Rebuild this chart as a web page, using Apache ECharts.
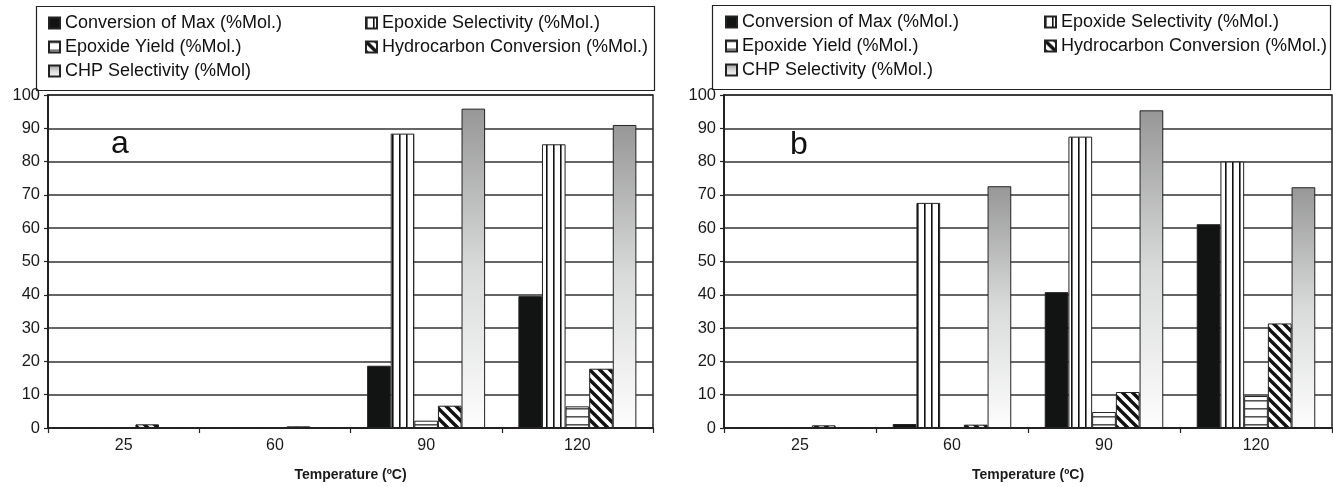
<!DOCTYPE html>
<html>
<head>
<meta charset="utf-8">
<script src="https://cdn.jsdelivr.net/npm/echarts@6/dist/echarts.min.js"></script>
<style>
html,body{margin:0;padding:0;background:#fff;}
#c{width:1333px;height:487px;}
</style>
</head>
<body>
<div id="c"></div>
<script>
// ---- data ----
var categories = ['25', '60', '90', '120'];
var yTicks = [0, 10, 20, 30, 40, 50, 60, 70, 80, 90, 100];

var namesA = ['Conversion of Max (%Mol.)', 'Epoxide Selectivity (%Mol.)', 'Epoxide Yield (%Mol.)', 'Hydrocarbon Conversion (%Mol.)', 'CHP Selectivity (%Mol)'];
var namesB = ['Conversion of Max (%Mol.)', 'Epoxide Selectivity (%Mol.)', 'Epoxide Yield (%Mol.)', 'Hydrocarbon Conversion (%Mol.)', 'CHP Selectivity (%Mol.)'];

var a_conv   = [0, 0, 18.7, 39.6];
var a_epoSel = [0, 0, 88.4, 85.2];
var a_yield  = [0, 0, 2.2, 6.5];
var a_hydro  = [1.1, 0.5, 6.7, 17.8];
var a_chp    = [0, 0, 95.9, 91.0];

var b_conv   = [0, 1.2, 40.8, 61.2];
var b_epoSel = [0, 67.6, 87.5, 80.0];
var b_yield  = [0, 0, 4.8, 9.6];
var b_hydro  = [0.8, 1.0, 10.8, 31.4];
var b_chp    = [0, 72.6, 95.4, 72.3];

// ---- patterns ----
function mk(w, h, draw) {
  var c = document.createElement('canvas'); c.width = w; c.height = h;
  var g = c.getContext('2d'); g.fillStyle = '#fff'; g.fillRect(0, 0, w, h); draw(g, w, h);
  return { image: c, repeat: 'repeat' };
}
var patVert = mk(7, 7, function (g) { g.fillStyle = '#111'; g.fillRect(0, 0, 1.6, 7); });
var patHorz = mk(8, 8, function (g) { g.fillStyle = '#555'; g.fillRect(0, 0, 8, 1.6); });
var patDiag = mk(10, 10, function (g) {
  g.strokeStyle = '#111'; g.lineWidth = 3.4; g.beginPath();
  g.moveTo(-5, -5); g.lineTo(15, 15);
  g.moveTo(-5, 5); g.lineTo(5, 15);
  g.moveTo(5, -5); g.lineTo(15, 5);
  g.stroke();
});
var gradChp = new echarts.graphic.LinearGradient(0, 0, 0, 1, [
  { offset: 0, color: '#979797' }, { offset: 0.5, color: '#d9dada' }, { offset: 1, color: '#fdfdfd' }
]);
var fills = ['#121413', patVert, patHorz, patDiag, gradChp];

var font = '"Liberation Sans", Arial, sans-serif';

function grid(left, right, bottom) {
  return { left: left, right: right, top: 95, bottom: bottom, show: true, borderColor: '#222', borderWidth: 1.5, backgroundColor: 'transparent' };
}
function xAx(idx) {
  return {
    type: 'category', gridIndex: idx, data: categories,
    axisLine: { lineStyle: { color: '#222', width: 2 } },
    axisTick: { show: true, length: 5, alignWithLabel: false, lineStyle: { color: '#222', width: 1.2 } },
    axisLabel: { color: '#1a1a1a', fontSize: 16, fontFamily: font, margin: 10 },
    name: 'Temperature (ºC)', nameLocation: 'middle', nameGap: 40,
    nameTextStyle: { color: '#1a1a1a', fontSize: 14, fontWeight: 'bold', fontFamily: font }
  };
}
function yAx(idx) {
  return {
    type: 'value', gridIndex: idx, min: 0, max: 100, interval: 10,
    axisLine: { show: true, lineStyle: { color: '#222', width: 2 } },
    axisTick: { show: true, length: 4, lineStyle: { color: '#222', width: 1.2 } },
    axisLabel: { color: '#1a1a1a', fontSize: 16.5, fontFamily: font, margin: 8,
      formatter: function (v) { return yTicks.indexOf(v) >= 0 ? String(v) : ''; } },
    splitLine: { show: true, lineStyle: { color: '#333', width: 1.5 } }
  };
}
function bars(names, arrs, idx) {
  return arrs.map(function (d, i) {
    return {
      name: names[i], type: 'bar', xAxisIndex: idx, yAxisIndex: idx, data: d,
      barGap: '0%', barCategoryGap: '22%',
      itemStyle: { color: fills[i], borderColor: '#222', borderWidth: 1 },
      emphasis: { disabled: true }, animation: false
    };
  });
}
function legends(names, x1, x2, top) {
  var ts = { color: '#111', fontSize: 18, fontFamily: font, lineHeight: 18 };
  var base = { orient: 'vertical', top: top, itemWidth: 11, itemHeight: 11, itemGap: 6, icon: 'rect', textStyle: ts, selectedMode: false, padding: 0 };
  return [
    Object.assign({}, base, { left: x1, data: [names[0], names[2], names[4]] }),
    Object.assign({}, base, { left: x2, data: [names[1], names[3]] })
  ];
}

var chart = echarts.init(document.getElementById('c'), null, { renderer: 'canvas' });
chart.setOption({
  backgroundColor: '#fff',
  animation: false,
  grid: [grid(48, 680, 52), grid(724, 1, 54.5)],
  xAxis: [xAx(0), xAx(1)],
  yAxis: [yAx(0), yAx(1)],
  legend: legends(namesA, 48, 365, 14).concat(legends(namesB, 725, 1044, 13)),
  graphic: [
    { type: 'rect', shape: { x: 36.5, y: 6.5, width: 618, height: 84 }, style: { fill: 'none', stroke: '#222', lineWidth: 1.2 }, z: 0 },
    { type: 'rect', shape: { x: 712.5, y: 5.5, width: 618, height: 84 }, style: { fill: 'none', stroke: '#222', lineWidth: 1.2 }, z: 0 },
    { type: 'text', x: 120, y: 144, style: { text: 'a', fontSize: 32, fontFamily: font, fill: '#111', align: 'center', verticalAlign: 'middle' } },
    { type: 'text', x: 799, y: 145, style: { text: 'b', fontSize: 32, fontFamily: font, fill: '#111', align: 'center', verticalAlign: 'middle' } }
  ],
  series: bars(namesA, [a_conv, a_epoSel, a_yield, a_hydro, a_chp], 0)
    .concat(bars(namesB, [b_conv, b_epoSel, b_yield, b_hydro, b_chp], 1))
});
</script>
</body>
</html>
